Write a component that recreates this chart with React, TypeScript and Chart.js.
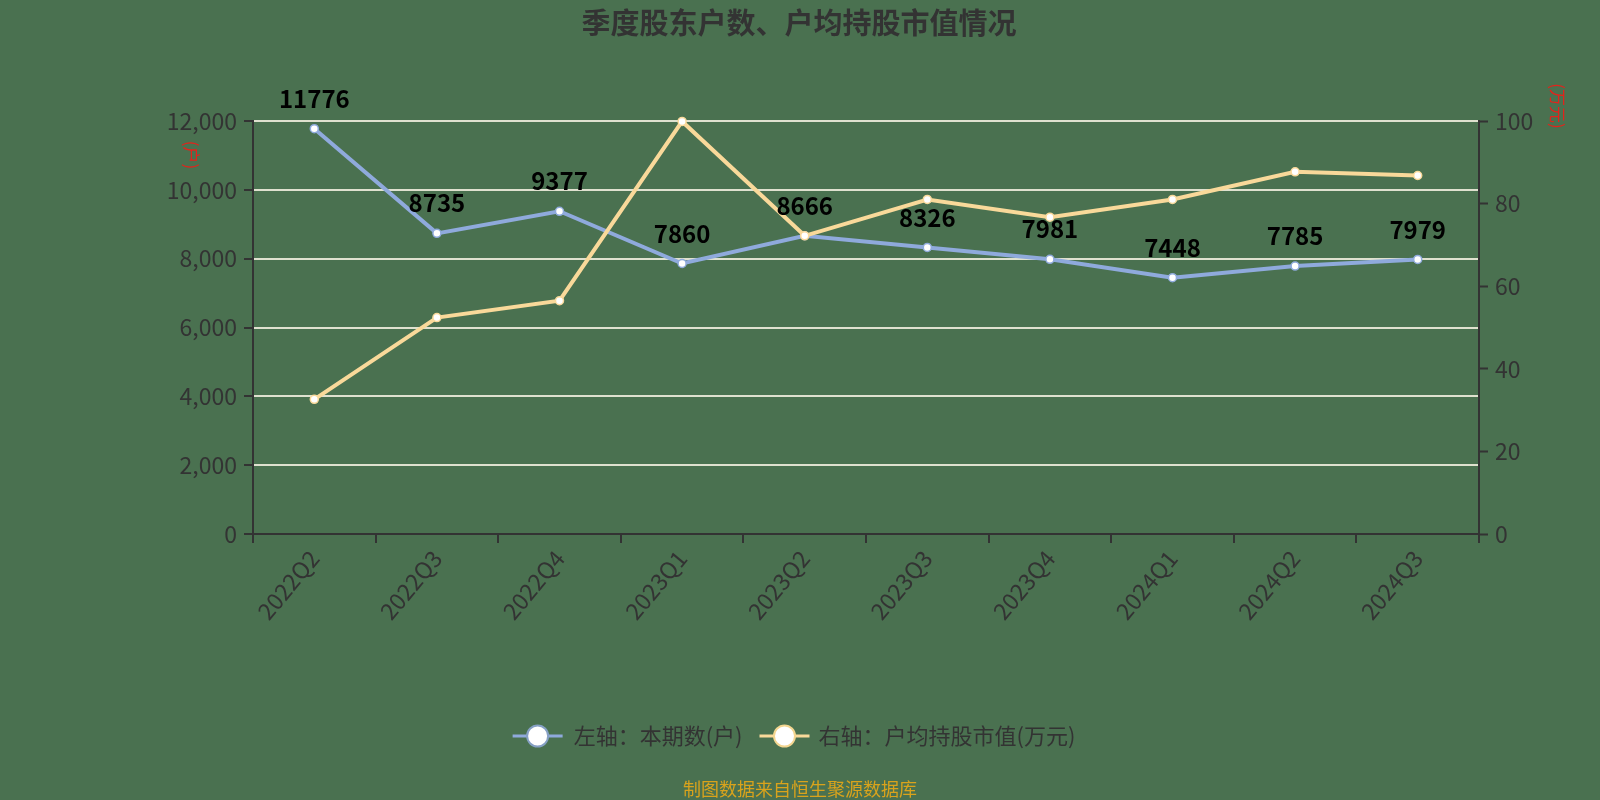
import React, { useEffect, useRef } from "react";
import { Chart, registerables } from "chart.js";

Chart.register(...registerables);

const categories = ["2022Q2", "2022Q3", "2022Q4", "2023Q1", "2023Q2", "2023Q3", "2023Q4", "2024Q1", "2024Q2", "2024Q3"];
const holders = [11776, 8735, 9377, 7860, 8666, 8326, 7981, 7448, 7785, 7979];
const avgValue = [32.6, 52.4, 56.5, 99.9, 72.2, 81.0, 76.7, 81.0, 87.7, 86.8];
const titleText = "季度股东户数、户均持股市值情况";
const legendLeft = "左轴：本期数(户)";
const legendRight = "右轴：户均持股市值(万元)";
const leftUnit = "(户)";
const rightUnit = "(万元)";
const footerText = "制图数据来自恒生聚源数据库";

const BG = "#4a7150";
const BLUE = "#8faadc";
const YELLOW = "#f9d99a";
const TEXT = "#333333";
const FONT = '"Noto Sans CJK SC", "Noto Sans", sans-serif';

const decor = {
  id: "decor",
  beforeDraw(chart: any) {
    const ctx = chart.ctx;
    ctx.save();
    ctx.fillStyle = BG;
    ctx.fillRect(0, 0, chart.width, chart.height);
    ctx.restore();
  },
  afterDatasetsDraw(chart: any) {
    const ctx = chart.ctx;
    const meta = chart.getDatasetMeta(0);
    ctx.save();
    ctx.font = `bold 24px ${FONT}`;
    ctx.fillStyle = "#000";
    ctx.textAlign = "center";
    ctx.textBaseline = "middle";
    meta.data.forEach((pt: any, i: number) => {
      ctx.fillText(String(holders[i]), pt.x, pt.y - 30);
    });
    ctx.restore();
  },
  afterDraw(chart: any) {
    const ctx = chart.ctx;
    ctx.save();
    // title
    ctx.font = `bold 29px ${FONT}`;
    ctx.fillStyle = TEXT;
    ctx.textAlign = "center";
    ctx.textBaseline = "middle";
    ctx.fillText(titleText, 799, 23);

    // axis units (rotated)
    ctx.fillStyle = "#e3231b";
    ctx.font = `17px ${FONT}`;
    ctx.save();
    ctx.translate(191, 155);
    ctx.rotate(Math.PI / 2);
    ctx.fillText(leftUnit, 0, 0);
    ctx.restore();
    ctx.save();
    ctx.translate(1557, 106);
    ctx.rotate(Math.PI / 2);
    ctx.fillText(rightUnit, 0, 0);
    ctx.restore();

    // legend
    const ly = 736;
    ctx.font = `22px ${FONT}`;
    ctx.textAlign = "left";
    const w1 = ctx.measureText(legendLeft).width;
    const w2 = ctx.measureText(legendRight).width;
    const markerW = 50;
    const total = markerW + 11 + w1 + 17 + markerW + 9 + w2;
    let x = 794 - total / 2;
    const drawMarker = (x0: number, line: string, border: string) => {
      ctx.strokeStyle = line;
      ctx.lineWidth = 3;
      ctx.beginPath();
      ctx.moveTo(x0, ly);
      ctx.lineTo(x0 + markerW, ly);
      ctx.stroke();
      ctx.beginPath();
      ctx.arc(x0 + markerW / 2, ly, 10.5, 0, Math.PI * 2);
      ctx.fillStyle = "#ffffff";
      ctx.fill();
      ctx.lineWidth = 2;
      ctx.strokeStyle = border;
      ctx.stroke();
    };
    drawMarker(x, BLUE, "#86a0c4");
    x += markerW + 11;
    ctx.fillStyle = TEXT;
    ctx.fillText(legendLeft, x, ly);
    x += w1 + 17;
    drawMarker(x, YELLOW, "#f3d690");
    x += markerW + 9;
    ctx.fillStyle = TEXT;
    ctx.fillText(legendRight, x, ly);

    // footer
    ctx.textAlign = "center";
    ctx.font = `18px ${FONT}`;
    ctx.fillStyle = "#d9a31c";
    ctx.fillText(footerText, 800, 789);
    ctx.restore();
  },
};

export default function App() {
  const ref = useRef<HTMLCanvasElement>(null);
  useEffect(() => {
    const tickFont = { size: 23, family: FONT };
    const chart = new Chart(ref.current as HTMLCanvasElement, {
      type: "line",
      data: {
        labels: categories,
        datasets: [
          {
            label: legendLeft,
            data: holders,
            yAxisID: "y",
            borderColor: BLUE,
            backgroundColor: "#ffffff",
            borderWidth: 4,
            pointRadius: 4,
            pointBorderWidth: 1.5,
            pointBorderColor: BLUE,
            pointBackgroundColor: "#ffffff",
            tension: 0,
            clip: false as any,
            order: 1,
          },
          {
            label: legendRight,
            data: avgValue,
            yAxisID: "y1",
            borderColor: YELLOW,
            backgroundColor: "#ffffff",
            borderWidth: 4,
            pointRadius: 4,
            pointBorderWidth: 1.5,
            pointBorderColor: YELLOW,
            pointBackgroundColor: "#ffffff",
            tension: 0,
            clip: false as any,
            order: 0,
          },
        ],
      },
      options: {
        responsive: false,
        animation: false,
        devicePixelRatio: 1,
        layout: { padding: { top: 121, left: 0, right: 0, bottom: 0 } },
        plugins: {
          legend: { display: false },
          title: { display: false },
          tooltip: { enabled: false },
        },
        scales: {
          x: {
            type: "category",
            offset: true,
            grid: {
              display: true,
              offset: true,
              drawOnChartArea: false,
              drawTicks: true,
              tickLength: 9,
              tickColor: TEXT,
              tickWidth: 2,
              lineWidth: 2,
            },
            border: { display: true, color: TEXT, width: 2, z: 1 },
            ticks: {
              color: TEXT,
              font: tickFont,
              minRotation: 50,
              maxRotation: 50,
              autoSkip: false,
              padding: 2,
            },
            afterFit(s: any) {
              s.height = 266;
            },
          },
          y: {
            position: "left",
            min: 0,
            max: 12000,
            ticks: {
              stepSize: 2000,
              color: TEXT,
              font: tickFont,
              padding: 7,
              callback: (v: any) => Number(v).toLocaleString("en-US"),
            },
            grid: {
              color: "#dfe1cf",
              lineWidth: 2,
              drawTicks: true,
              tickLength: 9,
              tickColor: TEXT,
              tickWidth: 2,
            },
            border: { display: true, color: TEXT, width: 2, z: 1 },
            afterFit(s: any) {
              s.width = 253;
            },
          },
          y1: {
            position: "right",
            min: 0,
            max: 100,
            ticks: {
              stepSize: 20,
              color: TEXT,
              font: tickFont,
              padding: 7,
            },
            grid: {
              drawOnChartArea: false,
              drawTicks: true,
              tickLength: 9,
              tickColor: TEXT,
              tickWidth: 2,
            },
            border: { display: true, color: TEXT, width: 2, z: 1 },
            afterFit(s: any) {
              s.width = 121;
            },
          },
        },
      } as any,
      plugins: [decor],
    });
    return () => chart.destroy();
  }, []);
  return (
    <div style={{ position: "fixed", left: 0, top: 0, width: 1600, height: 800, background: BG }}>
      <canvas ref={ref} width={1600} height={800} style={{ display: "block", width: 1600, height: 800 }} />
    </div>
  );
}
